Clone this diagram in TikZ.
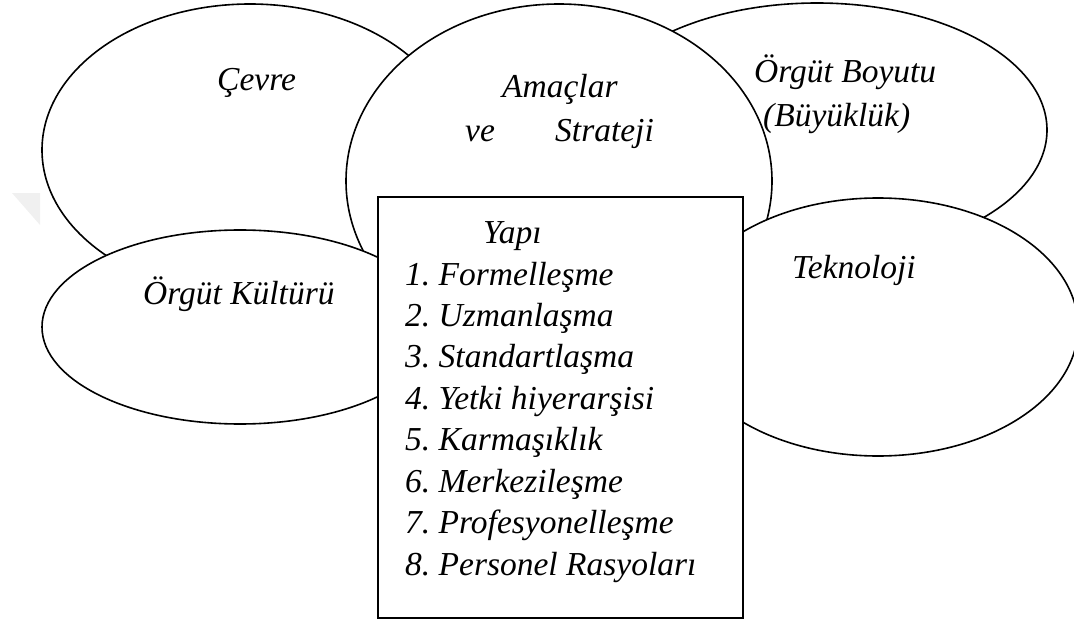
\documentclass[tikz,border=0pt]{standalone}
\usepackage{fontspec}
\setmainfont{Liberation Serif}
\usetikzlibrary{shapes.geometric}
\begin{document}
\frenchspacing
\begin{tikzpicture}[x=1pt,y=-1pt,
  oval/.style={ellipse, draw, fill=white, line width=1.6pt, inner sep=0pt, outer sep=0pt},
  lbl/.style={anchor=base west, inner sep=0pt, font=\fontsize{33.5}{40}\selectfont\itshape},
  yapibox/.style={draw, fill=white, line width=2.4pt, inner sep=0pt, outer sep=0pt}]
\useasboundingbox (0,0) rectangle (1074,623);
\fill[gray!12] (12,193) -- (40,193) -- (40,225) -- cycle;
\node[oval, minimum width=416pt, minimum height=292pt] (cevre) at (250,150) {};
\node[oval, minimum width=460pt, minimum height=254pt] (boyut) at (817,130) {};
\node[oval, minimum width=426pt, minimum height=354pt] (amac) at (559,181) {};
\node[oval, minimum width=396pt, minimum height=194pt] (kultur) at (240,327) {};
\node[oval, minimum width=400pt, minimum height=258pt] (tekno) at (878,327) {};
\node[yapibox, minimum width=365pt, minimum height=421pt] (yapi) at (560.5,407.5) {};
\node[lbl] (tcevre) at (217,91) {Çevre};
\node[lbl] (tamac) at (502,98) {Amaçlar};
\node[lbl] (tve) at (465,142) {ve};
\node[lbl] (tstr) at (555,142) {Strateji};
\node[lbl] (tboy) at (754,83) {Örgüt Boyutu};
\node[lbl] (tbuy) at (763,127) {(Büyüklük)};
\node[lbl] (ttek) at (792,278) {Teknoloji};
\node[lbl] (tkul) at (143,304) {Örgüt Kültürü};
\node[lbl] (tyapi) at (483,243) {Yapı};
\foreach \t [count=\i] in {{Formelleşme},{Uzmanlaşma},{Standartlaşma},{Yetki hiyerarşisi},{Karmaşıklık},{Merkezileşme},{Profesyonelleşme},{Personel Rasyoları}}
  \node[lbl] (item\i) at ({405},{285+41.43*(\i-1)}) {\i. \t};
\end{tikzpicture}
\end{document}
